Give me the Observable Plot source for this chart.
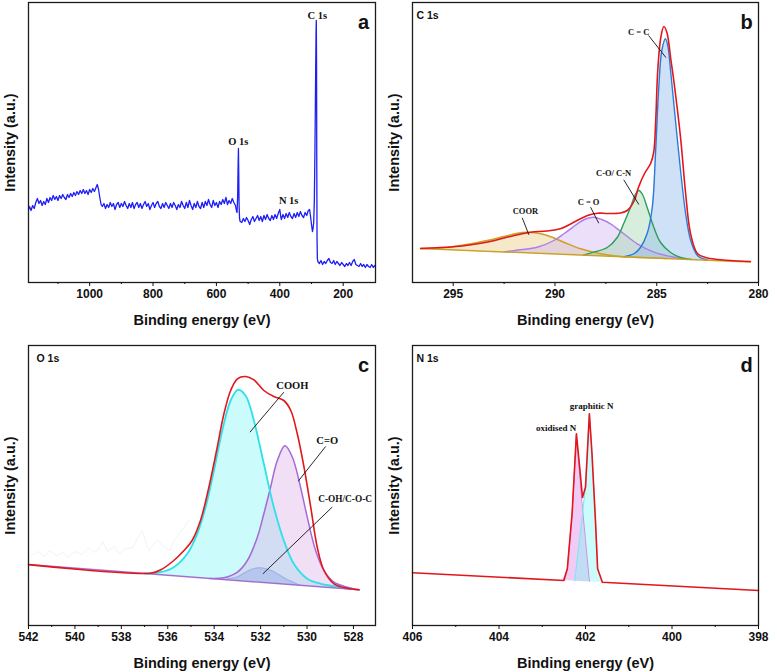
<!DOCTYPE html>
<html>
<head>
<meta charset="utf-8">
<script src="https://cdn.jsdelivr.net/npm/d3@7"></script>
<script src="https://cdn.jsdelivr.net/npm/@observablehq/plot@0.6"></script>
<style>
  body { margin: 0; background: #fff; }
  #fig { position: relative; width: 777px; height: 672px; overflow: hidden; background: #fff; }
</style>
</head>
<body>
<div id="fig"></div>
<script>
// ---- (a) survey scan: [binding energy eV, intensity a.u.]
const surveyScan = [
  [1193,73],[1190,76],[1185,72],[1180,77],[1175,74],[1170,80],[1165,84],[1160,79],[1155,82],[1150,77],
  [1145,81],[1140,78],[1135,84],[1130,80],[1125,85],[1120,82],[1115,87],[1110,83],[1105,86],[1100,82],
  [1095,87],[1090,84],[1085,88],[1080,85],[1075,83],[1070,88],[1065,85],[1060,89],[1055,86],[1050,90],
  [1045,87],[1040,91],[1035,88],[1030,92],[1025,89],[1020,93],[1015,89],[1010,92],[1005,88],[1000,93],
  [995,90],[990,94],[985,91],[980,95],[976,98],[972,93],[968,85],[964,78],[960,76],
  [955,79],[950,74],[945,78],[940,75],[935,80],[930,76],[925,79],[920,73],[915,78],[910,80],
  [905,75],[900,79],[895,76],[890,81],[885,77],[880,74],[875,79],[870,75],[865,80],[860,74],
  [855,78],[850,80],[845,75],[840,79],[835,74],[830,78],[825,81],[820,76],[815,79],[810,73],
  [805,77],[800,80],[795,75],[790,79],[785,81],[780,76],[775,74],[770,79],[765,75],[760,80],
  [755,77],[750,74],[745,79],[740,75],[735,80],[730,77],[725,73],[720,78],[715,75],[710,81],
  [705,77],[700,74],[695,80],[690,75],[685,82],[680,77],[675,73],[670,79],[665,75],[660,81],
  [655,76],[650,74],[645,80],[640,75],[635,81],[630,77],[625,83],[620,78],[615,75],[610,82],
  [605,77],[600,80],[595,75],[590,81],[585,78],[580,83],[575,79],[570,85],[565,78],[560,82],
  [555,79],[550,84],[545,80],[540,77],[537,72],[535,70],[533,86],[531.5,118],[530.5,134],[529.5,108],
  [528.5,78],[527,64],[525,61],
  [520,60],[515,64],[510,61],[505,65],[500,62],[495,58],[490,63],[485,66],[480,61],[475,64],
  [470,67],[465,62],[460,66],[455,61],[450,67],[445,63],[440,68],[435,64],[430,62],[425,67],
  [420,63],[415,68],[410,64],[405,69],[400,73],[397,66],[395,63],[390,68],[385,64],[380,69],
  [375,65],[370,70],[365,66],[360,64],[355,69],[350,65],[345,70],[340,66],[335,71],[330,67],
  [325,65],[320,70],[315,67],[310,72],[306,73],[303,66],[300,58],[297,51],[295,54],[293,60],
  [291,82],[289,135],[287,205],[285.5,252],[284.8,262],[284,218],[283.3,120],[282.5,45],[281.5,24],[280,21],
  [275,19],[270,22],[265,18],[260,21],[255,19],[250,22],[245,24],[240,20],[235,19],[230,22],
  [225,18],[220,21],[215,19],[210,17],[205,20],[200,18],[195,16],[190,19],[185,17],[180,20],
  [175,17],[170,21],[165,23],[160,18],[155,17],[150,16],[145,19],[140,16],[135,18],[130,15],
  [125,18],[120,16],[115,15],[110,18],[105,15],[100,17],[98,16]
];
const surveyLabels = [
  {name: "C 1s", be: 282, i: 267},
  {name: "O 1s", be: 531, i: 141},
  {name: "N 1s", be: 372, i: 82}
];
const surveyMajor = [1000, 800, 600, 400, 200];
const surveyMinor = [1100, 900, 700, 500, 300];

// ---- (b) C 1s high resolution
const c1sBackground = [[296.6, 34.0], [280.4, 20.6]];
const c1sEnvelope = [
  [296.6,34.0],[295.8,34.8],[295.0,35.8],[294.2,37.5],[293.3,40.5],[292.5,44.5],[292.0,47],[291.2,50.3],
  [290.4,51.5],[289.7,54],[289.1,60],[288.4,67],[287.9,69.3],[287.4,69],[286.8,69.5],[286.45,72],
  [286.1,82],[285.9,95],[285.6,109],[285.3,119],[285.15,130],[285.05,162],[284.95,212],[284.8,245],
  [284.65,256],[284.5,250],[284.3,222],[284.15,200],[283.83,145],[283.58,89],[283.34,49],[283.0,29],
  [282.6,25],[282.0,23],[281.0,21.5],[280.4,21]
];
const c1sCC = [
  [286.6,25.7],[286.1,29],[285.8,35],[285.47,49],[285.22,75],[285.06,129],[284.9,195],[284.75,232],
  [284.57,243.7],[284.45,236],[284.32,212],[284.08,162],[283.83,112],[283.58,69],[283.33,42],[283.0,27],
  [282.7,23.5],[282.5,22.3]
];
const c1sCOCN = [
  [288.6,27.3],[288.09,30.3],[287.43,35],[286.94,45],[286.62,59],[286.29,75],[286.05,88],[285.88,92],
  [285.7,88],[285.47,75],[285.14,55],[284.81,40],[284.32,30],[283.83,25],[283.3,23]
];
const c1sCdO = [
  [292.5,30.6],[291.69,32.7],[290.87,35.3],[290.05,42],[289.56,48.7],[288.9,58.7],[288.5,63.5],[288.09,65.3],
  [287.7,63],[287.27,58.7],[286.62,48.7],[285.96,38.7],[285.14,30.3],[284.32,26],[283.6,23.5]
];
const c1sCOOR = [
  [296.6,34],[295.79,34.3],[294.64,37],[293.33,42],[292.51,46],[291.9,49],[291.36,50.3],[290.9,49.5],
  [290.38,47],[289.56,40.3],[288.74,33.7],[287.76,28.7],[286.78,26],[285.8,25.1],[284.5,24.0]
];
const c1sLabels = [
  {name: "C = C", be: 285.89, i: 250, from: [285.40, 247], to: [284.55, 225]},
  {name: "C-O/ C-N", be: 287.12, i: 109, from: [286.62, 102.7], to: [285.88, 78]},
  {name: "C = O", be: 288.35, i: 80, from: [288.25, 75.3], to: [287.85, 59.3]},
  {name: "COOR", be: 291.45, i: 71.3, from: [291.61, 64.7], to: [291.28, 47.7]}
];
const c1sMajor = [295, 290, 285, 280];
const c1sMinor = [292.5, 287.5, 282.5];

// ---- (c) O 1s high resolution
const o1sBackground = [[541.9, 60.7], [527.76, 35.7]];
const o1sRaw = [
  [541.9,70],[541.6,74],[541.3,69],[541.1,75],[540.8,70],[540.5,73],[540.3,68],[540.0,74],[539.7,71],
  [539.4,78],[539.2,73],[539.0,76],[538.8,84],[538.6,74],[538.3,79],[538.1,72],[537.8,77],[537.5,78],
  [537.3,88],[537.1,95],[536.9,80],[536.8,75],[536.6,82],[536.4,85],[536.2,79],[535.9,75],[535.7,86],
  [535.5,92],[535.3,98],[535.1,105]
];
const o1sEnvelope = [
  [542,60.9],[536.74,52.3],[536.3,55.7],[535.74,65],[535.3,75],[534.95,85],[534.59,105],[534.23,138],
  [533.87,178],[533.58,211.7],[533.29,235],[533.0,246.7],[532.65,249],[532.29,245.7],[531.86,235],
  [531.43,229],[531.0,225],[530.7,215],[530.42,191.7],[530.13,158.3],[529.84,118.3],[529.56,78.3],
  [529.27,55],[528.84,41.7],[528.26,37.3],[527.76,35.7]
];
const o1sCOOH = [
  [537.0,52.1],[536.31,53.3],[535.74,58.3],[535.16,71.7],[534.73,91.7],[534.37,118.3],[534.01,155],
  [533.65,195],[533.29,225],[532.98,235.7],[532.65,230],[532.29,205],[531.86,161.7],[531.43,118.3],
  [531.0,85],[530.57,61.7],[529.99,46.7],[529.41,41.7],[528.84,39.3],[528.3,37]
];
const o1sCdO = [
  [534.2,47.1],[533.58,47.7],[533.0,53.3],[532.57,65],[532.14,88.3],[531.86,111.7],[531.57,138.3],
  [531.28,165],[530.95,179.7],[530.63,168.3],[530.28,138.3],[529.99,108.3],[529.63,75],[529.27,55],
  [528.84,43.3],[528.26,38.3],[527.76,35.7]
];
const o1sCOH = [
  [533.44,46.6],[533.0,48.5],[532.72,52.3],[532.35,56.5],[532.0,57.7],[531.6,55.5],[531.28,51.7],
  [530.9,46.5],[530.3,40.2]
];
const o1sLabels = [
  {name: "COOH", be: 530.63, i: 240, from: [531.0, 233.3], to: [532.46, 193.3]},
  {name: "C=O", be: 529.13, i: 185, from: [529.2, 179], to: [530.38, 144.3]},
  {name: "C-OH/C-O-C", be: 528.36, i: 126, from: [528.91, 118.5], to: [531.9, 51.7]}
];
const o1sMajor = [542, 540, 538, 536, 534, 532, 530, 528];
const o1sMinor = [541, 539, 537, 535, 533, 531, 529];

// ---- (d) N 1s high resolution
const n1sBackground = [[406, 52.7], [398, 35]];
const n1sEnvelope = [
  [406,52.7],[402.5,45.0],[402.42,56.7],[402.31,111.7],[402.21,191.7],[402.12,151.7],[402.07,128],
  [402.0,138.3],[401.91,211.7],[401.85,171.7],[401.77,105],[401.72,56.7],[401.61,43.3],[398,35]
];
const n1sOxidised = [
  [402.52,45.0],[402.42,56],[402.31,111],[402.21,190],[402.1,131],[402.0,85],[401.91,44.2]
];
const n1sGraphitic = [
  [402.25,44.5],[402.12,92],[402.0,139],[401.91,212],[401.85,172],[401.77,105],[401.72,57],[401.61,43.1]
];
const n1sLabels = [
  {name: "oxidised N", be: 402.68, i: 197.7},
  {name: "graphitic N", be: 401.86, i: 219}
];
const n1sMajor = [406, 404, 402, 400, 398];
const n1sMinor = [405, 403, 401, 399];

// ---- drawing
const sans = "'Liberation Sans', Arial, Helvetica, sans-serif";
const serif = "'Liberation Serif', 'Times New Roman', serif";
const fig = document.getElementById("fig");

// straight background line through its two end points
const lineThrough = ([[xa, ya], [xb, yb]]) => x => ya + (x - xa) * (yb - ya) / (xb - xa);

const X = d => d[0], Y = d => d[1];

function fillBetween(pts, bg, fill, curve) {
  return Plot.areaY(pts, {x: X, y1: d => bg(d[0]), y2: Y, fill, fillOpacity: 0.4, curve});
}
function trace(pts, stroke, strokeWidth, curve) {
  return Plot.line(pts, {x: X, y: Y, stroke, strokeWidth, curve});
}
// long labels are set a little tighter so they stay inside the frame
function callouts(labels, size) {
  return [
    Plot.link(labels.filter(d => d.from), {
      x1: d => d.from[0], y1: d => d.from[1], x2: d => d.to[0], y2: d => d.to[1],
      stroke: "#111", strokeWidth: 0.9
    }),
    Plot.text(labels, {
      x: "be", y: "i", text: "name", fontFamily: serif,
      fontSize: d => d.name.length > 8 && size > 10 ? size - 1.2 : size,
      fontWeight: "bold", fill: "#111"
    })
  ];
}

function panel({left, top, width, height, margin, xDomain, major, minor, letter, core, coreDx, marks}) {
  const svg = Plot.plot({
    width, height,
    marginTop: margin[0], marginRight: margin[1], marginBottom: margin[2], marginLeft: margin[3],
    x: {domain: xDomain},
    y: {domain: [0, 280], axis: null},
    style: {fontFamily: sans, fontSize: "12px", fontWeight: "bold", color: "#111", background: "transparent", overflow: "visible"},
    marks: [
      ...marks,
      Plot.frame({stroke: "#1c1c1c", strokeWidth: 1.3}),
      Plot.axisX({ticks: major, tickSize: 4, tickPadding: 3, tickFormat: d => String(d), label: null, fontSize: 12, fontWeight: "bold"}),
      Plot.axisX({ticks: minor, tickSize: 2, tickFormat: () => "", label: null}),
      Plot.text(["Binding energy (eV)"], {frameAnchor: "bottom", dy: 38, textAnchor: "middle", lineAnchor: "middle", fontSize: 14.5, fontWeight: "bold", fill: "#111"}),
      Plot.text(["Intensity (a.u.)"], {frameAnchor: "left", dx: -18, rotate: -90, textAnchor: "middle", lineAnchor: "middle", fontSize: 14.5, fontWeight: "bold", fill: "#111"}),
      Plot.text([letter], {frameAnchor: "top-right", dx: -12, dy: 20, textAnchor: "middle", lineAnchor: "middle", fontSize: 20, fontWeight: "bold", fill: "#111"}),
      core ? Plot.text([core], {frameAnchor: "top-left", dx: coreDx, dy: 13, textAnchor: "start", lineAnchor: "middle", fontSize: 10.5, fontWeight: "bold", fill: "#111"}) : null
    ]
  });
  svg.style.position = "absolute";
  svg.style.left = left + "px";
  svg.style.top = top + "px";
  fig.appendChild(svg);
}

// (a) survey
panel({
  left: 0, top: 0, width: 388, height: 335, margin: [2, 13, 53, 28],
  xDomain: [1193, 98], major: surveyMajor, minor: surveyMinor, letter: "a",
  marks: [
    trace(surveyScan, "#1e1ef5", 1.3, "linear"),
    ...callouts(surveyLabels, 10.5)
  ]
});

// (b) C 1s
const bgC = lineThrough(c1sBackground);
panel({
  left: 388, top: 0, width: 389, height: 335, margin: [2, 19, 53, 24],
  xDomain: [297, 280], major: c1sMajor, minor: c1sMinor, letter: "b", core: "C 1s", coreDx: 4,
  marks: [
    fillBetween(c1sCOOR, bgC, "#e6c97a", "catmull-rom"),
    fillBetween(c1sCdO, bgC, "#cfaef0", "catmull-rom"),
    fillBetween(c1sCOCN, bgC, "#9bd4a8", "catmull-rom"),
    fillBetween(c1sCC, bgC, "#86b3ec", "catmull-rom"),
    trace(c1sCOOR, "#c9a227", 1.5, "catmull-rom"),
    trace(c1sCdO, "#b07ee8", 1.4, "catmull-rom"),
    trace(c1sCOCN, "#2e9e5b", 1.4, "catmull-rom"),
    trace(c1sCC, "#2b7bd6", 1.4, "catmull-rom"),
    trace(c1sBackground, "#c9a227", 1.5, "linear"),
    trace(c1sEnvelope, "#e3161c", 1.6, "catmull-rom"),
    ...callouts(c1sLabels, 8.5)
  ]
});

// (c) O 1s
const bgO = lineThrough(o1sBackground);
panel({
  left: 0, top: 335, width: 388, height: 337, margin: [10, 13, 47, 28],
  xDomain: [542, 527.05], major: o1sMajor, minor: o1sMinor, letter: "c", core: "O 1s", coreDx: 8,
  marks: [
    trace(o1sRaw, "#f1f1f1", 0.9, "linear"),
    fillBetween(o1sCOOH, bgO, "#80f5f5", "catmull-rom"),
    fillBetween(o1sCdO, bgO, "#dcaee6", "catmull-rom"),
    fillBetween(o1sCOH, bgO, "#8fa6e6", "catmull-rom"),
    trace(o1sCOH, "#9db4e6", 1.2, "catmull-rom"),
    trace(o1sCdO, "#a46ad8", 1.5, "catmull-rom"),
    trace(o1sCOOH, "#2ee0e8", 1.8, "catmull-rom"),
    trace(o1sBackground, "#a070d0", 1.4, "linear"),
    trace(o1sEnvelope, "#e3161c", 1.6, "catmull-rom"),
    ...callouts(o1sLabels, 10.5)
  ]
});

// (d) N 1s
const bgN = lineThrough(n1sBackground);
panel({
  left: 388, top: 335, width: 389, height: 337, margin: [10, 19, 47, 24],
  xDomain: [406, 398], major: n1sMajor, minor: n1sMinor, letter: "d", core: "N 1s", coreDx: 4,
  marks: [
    fillBetween(n1sOxidised, bgN, "#dc7ee6", "linear"),
    fillBetween(n1sGraphitic, bgN, "#80f5f5", "linear"),
    trace(n1sOxidised, "#d38ae0", 1, "linear"),
    trace(n1sGraphitic, "#7fe6f0", 1, "linear"),
    trace(n1sEnvelope, "#e3161c", 1.6, "linear"),
    ...callouts(n1sLabels, 9)
  ]
});
</script>
</body>
</html>
